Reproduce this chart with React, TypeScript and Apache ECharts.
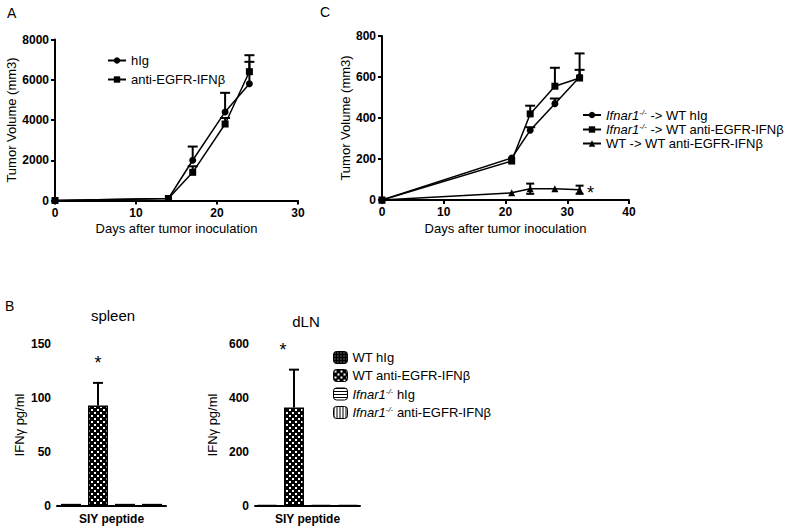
import React, { useEffect, useRef } from "react";
import * as echarts from "echarts";

// ---------- Data ----------
// Panel A
const daysA = [0, 14, 17, 21, 24];
const hIgA = [0, 100, 2000, 4400, 5800];
const hIgErrA = [0, 0, 680, 950, 1090];
const antiA = [0, 100, 1400, 3800, 6400];
const antiErrA = [0, 0, 300, 300, 820];

// Panel C
const daysC = [0, 21, 24, 28, 32];
const ifnHIgC = [0, 205, 340, 470, 600];
const ifnHIgErrC = [0, 0, 15, 25, 35];
const ifnAntiC = [0, 190, 420, 555, 595];
const ifnAntiErrC = [0, 0, 40, 90, 120];
const wtAntiC = [0, 35, 55, 55, 50];
const wtAntiErrC = [0, 0, 25, 0, 20];

// Panel B
const bCategories = ["SIY peptide"];
const bGroups = ["WT hIg", "WT anti-EGFR-IFNβ", "Ifnar1-/- hIg", "Ifnar1-/- anti-EGFR-IFNβ"];
const spleenValues = [2, 93, 2, 2];
const spleenErr = [0, 21, 0, 0];
const dlnValues = [4, 365, 4, 4];
const dlnErr = [0, 140, 0, 0];

const namesA = ["hIg", "anti-EGFR-IFNβ"];
const namesC = ["Ifnar1-/- -> WT hIg", "Ifnar1-/- -> WT anti-EGFR-IFNβ", "WT -> WT anti-EGFR-IFNβ"];

const FONT = '"Liberation Sans", Arial, Helvetica, sans-serif';
const BAR_W = 20;
const BAR_GAP_PX = 7;

function makePattern(kind: string): HTMLCanvasElement {
  const c = document.createElement("canvas");
  const ctx = c.getContext("2d")!;
  if (kind === "dots") {
    c.width = 3; c.height = 3;
    ctx.fillStyle = "#000"; ctx.fillRect(0, 0, 3, 3);
    ctx.fillStyle = "#bbb"; ctx.fillRect(1, 1, 1, 1);
  } else if (kind === "check") {
    c.width = 6; c.height = 6;
    ctx.fillStyle = "#000"; ctx.fillRect(0, 0, 6, 6);
    ctx.fillStyle = "#fff";
    ctx.fillRect(1, 1, 2, 2);
    ctx.fillRect(4, 4, 2, 2);
  } else if (kind === "h") {
    c.width = 4; c.height = 3;
    ctx.fillStyle = "#fff"; ctx.fillRect(0, 0, 4, 3);
    ctx.fillStyle = "#000"; ctx.fillRect(0, 0, 4, 1);
  } else {
    c.width = 3; c.height = 4;
    ctx.fillStyle = "#fff"; ctx.fillRect(0, 0, 3, 4);
    ctx.fillStyle = "#000"; ctx.fillRect(0, 0, 1, 4);
  }
  return c;
}

const lineErrRender = (sym: boolean, capW: number) => (params: any, api: any) => {
  const x = api.value(0), y = api.value(1), e = api.value(2);
  if (!e) return { type: "group", children: [] };
  const p0 = api.coord([x, y]);
  const pt = api.coord([x, y + e]);
  const pb = sym ? api.coord([x, y - e]) : p0;
  const st = { stroke: "#000", lineWidth: 2 };
  const children: any[] = [
    { type: "line", shape: { x1: pt[0], y1: pt[1], x2: pb[0], y2: pb[1] }, style: st },
    { type: "line", shape: { x1: pt[0] - capW, y1: pt[1], x2: pt[0] + capW, y2: pt[1] }, style: st },
  ];
  if (sym) children.push({ type: "line", shape: { x1: pb[0] - capW, y1: pb[1], x2: pb[0] + capW, y2: pb[1] }, style: st });
  return { type: "group", children };
};

const barErrRender = (starDx: number) => (params: any, api: any) => {
  const idx = api.value(3), y = api.value(1), e = api.value(2);
  if (!e) return { type: "group", children: [] };
  const off = (idx - 1.5) * (BAR_W + BAR_GAP_PX);
  const p0 = api.coord([api.value(0), y]);
  const pt = api.coord([api.value(0), y + e]);
  const x = p0[0] + off;
  const st = { stroke: "#000", lineWidth: 2 };
  return {
    type: "group",
    children: [
      { type: "line", shape: { x1: x, y1: pt[1], x2: x, y2: p0[1] }, style: st },
      { type: "line", shape: { x1: x - 5, y1: pt[1], x2: x + 5, y2: pt[1] }, style: st },
      {
        type: "text",
        x: x + starDx,
        y: pt[1] - 20,
        style: { text: "*", fontSize: 18, fontFamily: FONT, fill: "#000", align: "center", verticalAlign: "middle" },
      },
    ],
  };
};

const richText = {
  n: { fontSize: 13, fontFamily: FONT, color: "#000", lineHeight: 14 },
  i: { fontSize: 13, fontFamily: FONT, fontStyle: "italic", color: "#000", lineHeight: 14 },
  s: { fontSize: 8, fontFamily: FONT, fontStyle: "italic", color: "#000", verticalAlign: "top", lineHeight: 14 },
};
const fmtName = (name: string) => {
  if (name.startsWith("Ifnar1-/-")) {
    return `{i|Ifnar1}{s|-/-}{n|${name.slice(9)}}`;
  }
  return `{n|${name}}`;
};

const axisCommon = {
  axisLine: { lineStyle: { color: "#000", width: 2 } },
  axisTick: { length: 4, lineStyle: { color: "#000", width: 2 } },
  axisLabel: { color: "#000", fontWeight: "bold", fontSize: 12, fontFamily: FONT, margin: 6, formatter: (v: any) => String(v) },
  splitLine: { show: false },
  nameTextStyle: { color: "#000", fontSize: 13, fontFamily: FONT },
};

export default function App() {
  const ref = useRef<HTMLDivElement>(null);
  useEffect(() => {
    if (!ref.current) return;
    const chart = echarts.init(ref.current, null, { renderer: "svg" });
    const patterns = ["dots", "check", "h", "v"].map((k) => ({ image: makePattern(k), repeat: "repeat" }));

    const lineSeries = (name: string, xs: number[], ys: number[], symbol: string, axis: number, starLast = false) => ({
      name,
      type: "line",
      xAxisIndex: axis,
      yAxisIndex: axis,
      symbol,
      symbolSize: 7,
      itemStyle: { color: "#000" },
      lineStyle: { color: "#000", width: 1.5 },
      z: 3,
      data: xs.map((x, i) =>
        starLast && i === xs.length - 1
          ? { value: [x, ys[i]], label: { show: true, formatter: "*", position: "right", distance: 4, fontSize: 18, fontFamily: FONT, color: "#000", offset: [0, 3] } }
          : [x, ys[i]]
      ),
    });
    const errSeries = (xs: number[], ys: number[], es: number[], axis: number, sym: boolean, capW: number) => ({
      type: "custom",
      xAxisIndex: axis,
      yAxisIndex: axis,
      renderItem: lineErrRender(sym, capW),
      z: 2,
      silent: true,
      data: xs.map((x, i) => [x, ys[i], es[i]]),
    });

    const barSeries = (vals: number[], axis: number) =>
      bGroups.map((g, gi) => ({
        name: g,
        type: "bar",
        xAxisIndex: axis,
        yAxisIndex: axis,
        barWidth: BAR_W,
        barGap: (BAR_GAP_PX / BAR_W) * 100 + "%",
        itemStyle: { color: patterns[gi], borderColor: "#000", borderWidth: 1.5 },
        data: [vals[gi]],
      }));
    const barErrSeries = (vals: number[], errs: number[], axis: number, starDx: number) => ({
      type: "custom",
      xAxisIndex: axis,
      yAxisIndex: axis,
      renderItem: barErrRender(starDx),
      z: 1,
      silent: true,
      data: vals.map((v, i) => [0, v, errs[i], i]),
    });

    chart.setOption({
      animation: false,
      backgroundColor: "#fff",
      textStyle: { fontFamily: FONT },
      grid: [
        { left: 55, top: 39.5, width: 243, height: 161, outerBoundsMode: "none" },
        { left: 382, top: 36, width: 247, height: 164, outerBoundsMode: "none" },
        { left: 57, top: 344, width: 109, height: 162, outerBoundsMode: "none" },
        { left: 255, top: 344, width: 105, height: 162, outerBoundsMode: "none" },
      ],
      xAxis: [
        { ...axisCommon, type: "value", gridIndex: 0, min: 0, max: 30, interval: 10, name: "Days after tumor inoculation", nameLocation: "middle", nameGap: 21 },
        { ...axisCommon, type: "value", gridIndex: 1, min: 0, max: 40, interval: 10, name: "Days after tumor inoculation", nameLocation: "middle", nameGap: 22 },
        { ...axisCommon, type: "category", gridIndex: 2, data: bCategories, axisTick: { ...axisCommon.axisTick, alignWithLabel: true }, axisLabel: { ...axisCommon.axisLabel, formatter: undefined, fontSize: 12, margin: 7 } },
        { ...axisCommon, type: "category", gridIndex: 3, data: bCategories, axisTick: { ...axisCommon.axisTick, alignWithLabel: true }, axisLabel: { ...axisCommon.axisLabel, formatter: undefined, fontSize: 12, margin: 7 } },
      ],
      yAxis: [
        { ...axisCommon, type: "value", gridIndex: 0, min: 0, max: 8000, interval: 2000, name: "Tumor Volume (mm3)", nameLocation: "middle", nameGap: 37 },
        { ...axisCommon, type: "value", gridIndex: 1, min: 0, max: 800, interval: 200, name: "Tumor Volume (mm3)", nameLocation: "middle", nameGap: 30 },
        { ...axisCommon, type: "value", gridIndex: 2, min: 0, max: 150, interval: 50, name: "IFNγ pg/ml", nameLocation: "middle", nameGap: 31 },
        { ...axisCommon, type: "value", gridIndex: 3, min: 0, max: 600, interval: 200, name: "IFNγ pg/ml", nameLocation: "middle", nameGap: 36 },
      ],
      legend: [
        {
          data: namesA, left: 107, top: 54, orient: "vertical", itemWidth: 18, itemHeight: 8, itemGap: 6,
          selectedMode: false, formatter: fmtName, textStyle: { rich: richText }, padding: 0,
        },
        {
          data: namesC, left: 582, top: 108, orient: "vertical", itemWidth: 18, itemHeight: 8, itemGap: 1,
          selectedMode: false, formatter: fmtName, textStyle: { rich: richText }, padding: 0,
        },
        {
          data: bGroups, left: 333, top: 351, orient: "vertical", itemWidth: 14, itemHeight: 12, itemGap: 5,
          selectedMode: false, formatter: fmtName, textStyle: { rich: richText }, padding: 0,
          itemStyle: { borderColor: "#000", borderWidth: 1 },
        },
      ],
      graphic: [
        { type: "text", x: 7, y: 6, style: { text: "A", fontSize: 14, fontFamily: FONT, fill: "#000" } },
        { type: "text", x: 320, y: 5, style: { text: "C", fontSize: 14, fontFamily: FONT, fill: "#000" } },
        { type: "text", x: 5, y: 299, style: { text: "B", fontSize: 14, fontFamily: FONT, fill: "#000" } },
        { type: "text", x: 113, y: 315, style: { text: "spleen", fontSize: 15, fontFamily: FONT, fill: "#000", align: "center", verticalAlign: "middle" } },
        { type: "text", x: 306, y: 321, style: { text: "dLN", fontSize: 15, fontFamily: FONT, fill: "#000", align: "center", verticalAlign: "middle" } },
      ],
      series: [
        errSeries(daysA, hIgA, hIgErrA, 0, false, 5),
        errSeries(daysA, antiA, antiErrA, 0, false, 5),
        lineSeries(namesA[0], daysA, hIgA, "circle", 0),
        lineSeries(namesA[1], daysA, antiA, "rect", 0),
        errSeries(daysC, ifnHIgC, ifnHIgErrC, 1, false, 5),
        errSeries(daysC, ifnAntiC, ifnAntiErrC, 1, false, 5),
        errSeries(daysC, wtAntiC, wtAntiErrC, 1, true, 4),
        lineSeries(namesC[0], daysC, ifnHIgC, "circle", 1),
        lineSeries(namesC[1], daysC, ifnAntiC, "rect", 1),
        lineSeries(namesC[2], daysC, wtAntiC, "triangle", 1, true),
        ...barSeries(spleenValues, 2),
        barErrSeries(spleenValues, spleenErr, 2, 0),
        ...barSeries(dlnValues, 3),
        barErrSeries(dlnValues, dlnErr, 3, -11),
      ],
    });
    return () => chart.dispose();
  }, []);
  return <div ref={ref} style={{ position: "absolute", left: 0, top: 0, width: 800, height: 530 }} />;
}
